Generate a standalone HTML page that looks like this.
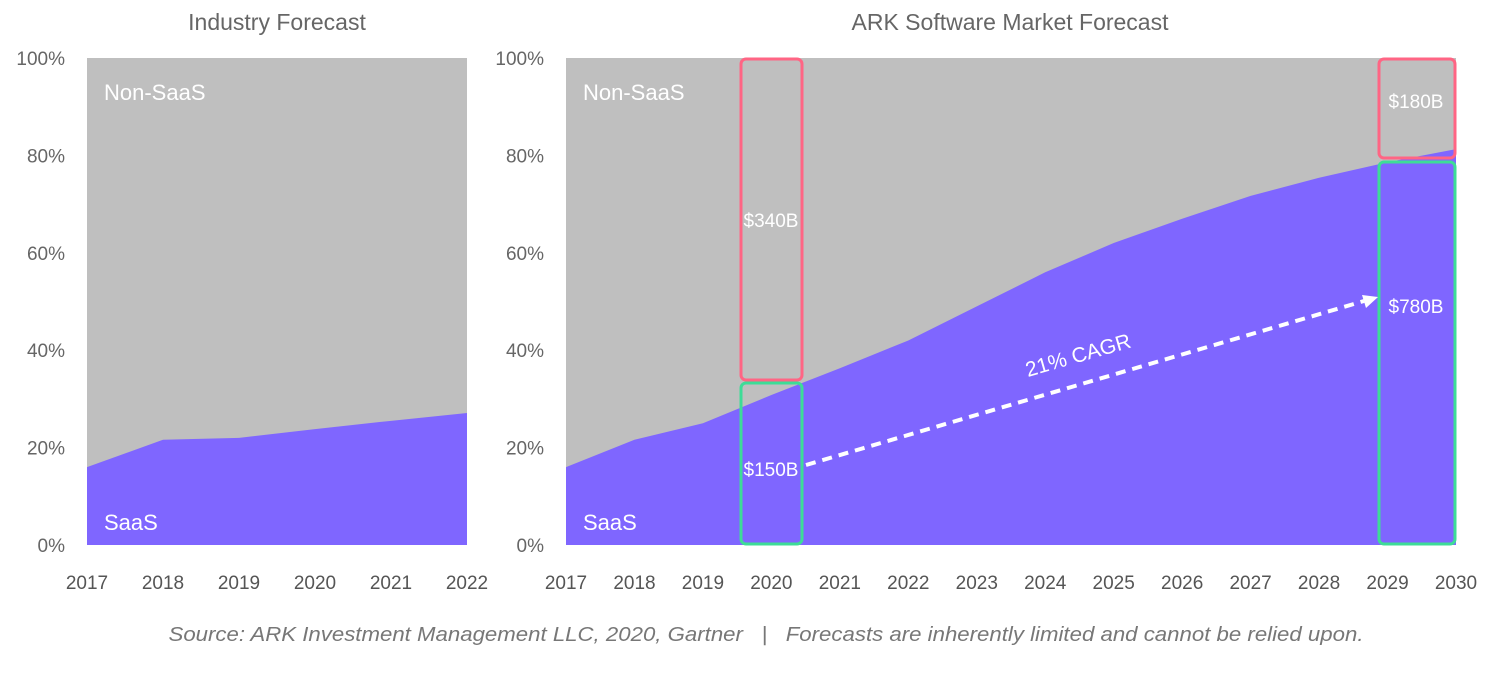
<!DOCTYPE html>
<html><head><meta charset="utf-8"><style>
body{margin:0;background:#fff;width:1498px;height:673px;overflow:hidden}
text{font-family:"Liberation Sans",sans-serif}
</style></head><body>
<svg id="svg" width="1498" height="673" xmlns="http://www.w3.org/2000/svg"></svg>
<script>
const leftYears=[2017,2018,2019,2020,2021,2022];
const leftSaas=[16,21.6,22,23.8,25.5,27.1];
const rightYears=[2017,2018,2019,2020,2021,2022,2023,2024,2025,2026,2027,2028,2029,2030];
const rightSaas=[16,21.6,25,30.8,36.3,42,49,56,62,67,71.7,75.4,78.6,81.3];
const yTicks=[0,20,40,60,80,100];
const NS="http://www.w3.org/2000/svg";
const svg=document.getElementById('svg');
function mk(t,a,parent){const e=document.createElementNS(NS,t);for(const k in a)e.setAttribute(k,a[k]);(parent||svg).appendChild(e);return e;}
const Y0=545,Y1=58;
const yS=v=>Y0-(v/100)*(Y0-Y1);
function chart(name,x0,x1,years,vals,title,titleX){
  const g=mk('g',{});
  
  
  const xS=yr=>x0+(yr-years[0])/(years[years.length-1]-years[0])*(x1-x0);
  const bg=mk('rect',{x:x0,y:Y1,width:x1-x0,height:Y0-Y1,fill:'#bfbfbf'},g);
  
  
  let d=`M${x0},${Y0}`;
  years.forEach((yr,i)=>{d+=` L${xS(yr)},${yS(vals[i])}`;});
  d+=` L${x1},${Y0} Z`;
  const area=mk('path',{d,fill:'#7f66ff'},g);
  
  
  yTicks.forEach(t=>{
    const tx=mk('text',{x:x0-22,y:yS(t)+7,'text-anchor':'end','font-size':19,fill:'#666'},g);
    tx.textContent=t+'%';
    
    
  });
  years.forEach(yr=>{
    const tx=mk('text',{x:xS(yr),y:589,'text-anchor':'middle','font-size':19,fill:'#555'},g);
    tx.textContent=yr;
    
    
  });
  const tt=mk('text',{x:titleX,y:30,'text-anchor':'middle','font-size':23,fill:'#666'},g);
  tt.textContent=title;
  
  
  const l1=mk('text',{x:x0+17,y:100,'font-size':22,fill:'#fff'},g);
  l1.textContent='Non-SaaS';
  
  
  const l2=mk('text',{x:x0+17,y:530,'font-size':22,fill:'#fff'},g);
  l2.textContent='SaaS';
  
  
  return xS;
}
chart('industry-forecast-chart',87,467,leftYears,leftSaas,'Industry Forecast',277);
const xR=chart('ark-forecast-chart',566,1456,rightYears,rightSaas,'ARK Software Market Forecast',1010);
function box(name,x,y,w,h,col){
  const r=mk('rect',{x,y,width:w,height:h,rx:5,fill:'none',stroke:col,'stroke-width':3});
  
  
}
function lab(name,x,y,s){
  const t=mk('text',{x,y,'text-anchor':'middle','font-size':19,fill:'#fff'});
  t.textContent=s;
  
  
}
box('non-saas-2020-box',741,59,61,321,'#ff6584');
box('saas-2020-box',741,383,61,161,'#3ddc97');
box('non-saas-2029-box',1379,59,76,99,'#ff6584');
box('saas-2029-box',1379,162,76,382,'#3ddc97');
lab('non-saas-2020-value',771,227,'$340B');
lab('saas-2020-value',771,476,'$150B');
lab('non-saas-2029-value',1416,108,'$180B');
lab('saas-2029-value',1416,313,'$780B');
const ar=mk('line',{x1:806,y1:465,x2:1364,y2:301,stroke:'#fff','stroke-width':4,'stroke-dasharray':'10,7'});


const ah=mk('polygon',{points:'1378,297 1362,295 1366,308',fill:'#fff'});


const cg=mk('text',{x:1080,y:362,'text-anchor':'middle','font-size':21,fill:'#fff',transform:'rotate(-16 1080 362)'});
cg.textContent='21% CAGR';


const src=mk('text',{x:766,y:641,'text-anchor':'middle','font-size':20,fill:'#777','font-style':'italic',textLength:1195,lengthAdjust:'spacingAndGlyphs'});
src.textContent='Source: ARK Investment Management LLC, 2020, Gartner   |   Forecasts are inherently limited and cannot be relied upon.';


src.setAttribute('xml:space','preserve');
src.style.whiteSpace='pre';
</script>
</body></html>
